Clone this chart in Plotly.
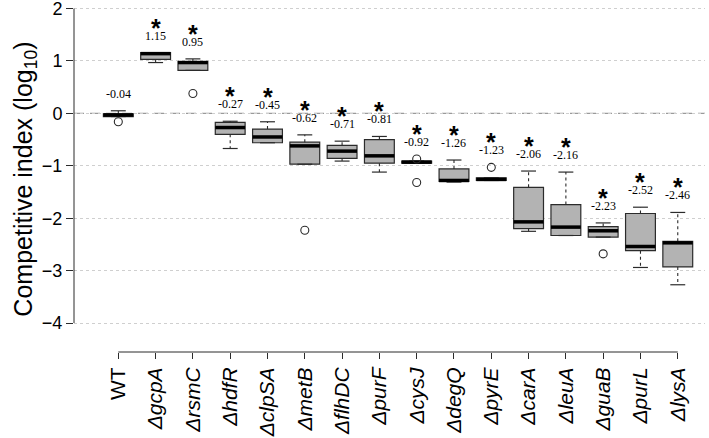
import plotly.graph_objects as go

strains = ["WT", "ΔgcpA", "ΔrsmC", "ΔhdfR", "ΔclpSA", "ΔmetB", "ΔflhDC", "ΔpurF",
           "ΔcysJ", "ΔdegQ", "ΔpyrE", "ΔcarA", "ΔleuA", "ΔguaB", "ΔpurL", "ΔlysA"]
lower_whisker = [-0.06, 0.97, 0.82, -0.67, -0.56, -0.97, -0.91, -1.12,
                 -0.95, -1.31, -1.28, -2.25, -2.33, -2.36, -2.94, -3.27]
q1 = [-0.06, 1.03, 0.82, -0.40, -0.56, -0.97, -0.86, -0.95,
      -0.95, -1.30, -1.28, -2.20, -2.33, -2.36, -2.62, -2.93]
median = [-0.03, 1.14, 0.97, -0.27, -0.45, -0.62, -0.72, -0.81,
          -0.93, -1.28, -1.26, -2.07, -2.17, -2.24, -2.54, -2.47]
q3 = [-0.01, 1.16, 0.99, -0.17, -0.30, -0.55, -0.61, -0.50,
      -0.91, -1.06, -1.23, -1.41, -1.74, -2.16, -1.91, -2.44]
upper_whisker = [0.05, 1.16, 1.04, -0.15, -0.16, -0.41, -0.53, -0.44,
                 -0.91, -0.89, -1.23, -1.10, -1.12, -2.09, -1.79, -1.89]
outliers = [[-0.16], [], [0.38], [], [], [-2.23], [], [],
            [-0.87, -1.32], [], [-1.03], [], [], [-2.68], [], []]
mean_labels = ["-0.04", "1.15", "0.95", "-0.27", "-0.45", "-0.62", "-0.71", "-0.81",
               "-0.92", "-1.26", "-1.23", "-2.06", "-2.16", "-2.23", "-2.52", "-2.46"]
significant = [False] + [True] * 15

pos = list(range(len(strains)))
ink = '#2b2b2b'

fig = go.Figure()
fig.add_trace(go.Box(
    x=pos, q1=q1, median=median, q3=q3, lowerfence=q1, upperfence=q3,
    width=0.8, whiskerwidth=0, fillcolor='#b3b3b3',
    line=dict(color=ink, width=1.2), hoverinfo='skip', showlegend=False
))

# dashed whiskers + staples, R style
wx, wy, sx, sy, mx, my = [], [], [], [], [], []
for i in pos:
    wx += [i, i, None, i, i, None]
    wy += [q3[i], upper_whisker[i], None, q1[i], lower_whisker[i], None]
    sx += [i - 0.2, i + 0.2, None, i - 0.2, i + 0.2, None]
    sy += [upper_whisker[i], upper_whisker[i], None, lower_whisker[i], lower_whisker[i], None]
    mx += [i - 0.4, i + 0.4, None]
    my += [median[i], median[i], None]
fig.add_trace(go.Scatter(x=wx, y=wy, mode='lines', line=dict(color=ink, width=1.1, dash='3px,3px'),
                         hoverinfo='skip', showlegend=False))
fig.add_trace(go.Scatter(x=sx, y=sy, mode='lines', line=dict(color=ink, width=1.2),
                         hoverinfo='skip', showlegend=False))
fig.add_trace(go.Scatter(x=mx, y=my, mode='lines', line=dict(color='black', width=3.5),
                         hoverinfo='skip', showlegend=False))

ox = [i for i in pos for _ in outliers[i]]
oy = [v for i in pos for v in outliers[i]]
fig.add_trace(go.Scatter(x=ox, y=oy, mode='markers',
                         marker=dict(symbol='circle-open', size=8, color=ink, line=dict(width=1.1)),
                         hoverinfo='skip', showlegend=False))

for i in pos:
    top = max([upper_whisker[i]] + outliers[i])
    fig.add_annotation(x=i, y=top, text=mean_labels[i], showarrow=False, yshift=17,
                       font=dict(family='Liberation Serif', size=12, color='black'))
    if significant[i]:
        fig.add_annotation(x=i, y=top, text='<b>*</b>', showarrow=False, yshift=25,
                           font=dict(family='Liberation Sans', size=25, color='black'))

# y title as a rotated annotation for exact placement
fig.add_annotation(xref='paper', yref='paper', x=-0.079, y=0.5, textangle=-90,
                   xanchor='center', yanchor='middle',
                   text='Competitive index (log<sub>10</sub>)', showarrow=False,
                   font=dict(size=25, color='black'))

# reference line at zero
fig.add_shape(type='line', xref='paper', x0=0, x1=1, yref='y', y0=0, y1=0,
              line=dict(color='#9a9a9a', width=1.2, dash='10px,6px'), layer='below')
# detached axis lines
fig.add_shape(type='line', xref='paper', x0=0, x1=0, yref='y', y0=-4, y1=2,
              line=dict(color=ink, width=1))
fig.add_shape(type='line', xref='x', x0=0, x1=15, yref='paper', y0=0, y1=0,
              line=dict(color=ink, width=1))

ticktext = [s if not s.startswith('Δ') else f'<i>{s}</i>' for s in strains]

fig.update_layout(
    width=709, height=438,
    margin=dict(l=74, r=4, t=7, b=86),
    plot_bgcolor='white', paper_bgcolor='white',
    font=dict(family='Liberation Sans', color='black'),
)
fig.update_xaxes(
    range=[-1.188, 15.73], tickvals=pos, ticktext=ticktext, tickangle=-90,
    tickfont=dict(size=21), ticks='outside', ticklen=6, tickcolor=ink,
    showgrid=False, zeroline=False, showline=False, fixedrange=True, automargin=False
)
fig.update_yaxes(
    range=[-4.553, 2.03], tickvals=[2, 1, 0, -1, -2, -3, -4],
    tickfont=dict(size=18), ticks='outside', ticklen=7, tickcolor=ink,
    showgrid=True, gridcolor='#cfcfcf', griddash='dot', gridwidth=1,
    zeroline=False, showline=False, automargin=False, ticklabeloverflow='allow'
)

fig.write_html("out.html", config={'displayModeBar': False},
               post_script="document.body.style.margin='0';")
